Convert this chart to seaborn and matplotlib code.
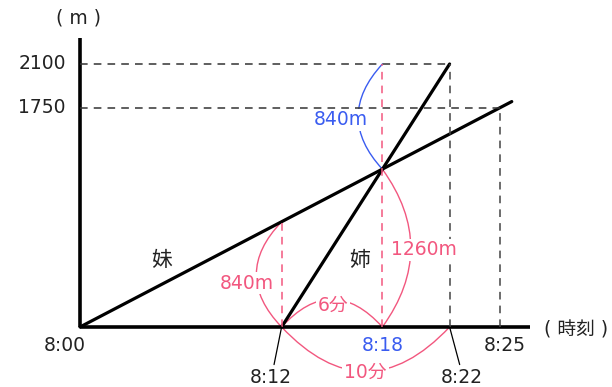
import matplotlib
matplotlib.use("Agg")
import matplotlib.pyplot as plt
from matplotlib.patches import FancyArrowPatch
import seaborn as sns
import pandas as pd

# データ（分: 8:00 からの経過時間, m: 距離）
imouto_t = [0, 25.7]
imouto_m = [0, 1800]
ane_t = [12, 22]
ane_m = [0, 2100]
y_ticks = [2100, 1750]
y_tick_labels = ["2100", "1750"]
t_meet = 18
m_meet = 1260
m_imouto_12 = 840

sns.set_style("white")
plt.rcParams['font.family'] = ['DejaVu Sans', 'Noto Sans CJK JP']

pink = "#f2577f"
blue = "#3a5cf0"
ink = "#222222"
fs = 13.5

fig = plt.figure(figsize=(6.12, 3.87), dpi=100)
ax = fig.add_axes([0, 0, 1, 1])
ax.set_xlim(-80 / 16.8, 532 / 16.8)
ax.set_ylim(-60 / 0.12524, 327 / 0.12524)
ax.axis("off")

df = pd.DataFrame({
    "t": imouto_t + ane_t,
    "m": imouto_m + ane_m,
    "who": ["妹", "妹", "姉", "姉"],
})
sns.lineplot(data=df, x="t", y="m", units="who", estimator=None,
             color="black", lw=2.3, ax=ax, legend=False)

# 軸
ax.plot([0, 26.8], [0, 0], color="black", lw=2.6, solid_capstyle="butt")
ax.plot([0, 0], [0, 2310], color="black", lw=2.6, solid_capstyle="butt")

# 補助の破線
dash = dict(lw=1.1, dashes=(5, 4))
ax.plot([0, 22], [2100, 2100], color="#333333", **dash)
ax.plot([0, 25], [1750, 1750], color="#333333", **dash)
ax.plot([22, 22], [0, 2100], color="#444444", **dash)
ax.plot([25, 25], [0, 1750], color="#444444", **dash)
ax.plot([t_meet, t_meet], [0, 2100], color=pink, **dash)
ax.plot([12, 12], [0, m_imouto_12], color=pink, **dash)

# 目盛りラベル
for v, lab in zip(y_ticks, y_tick_labels):
    ax.text(-0.85, v, lab, ha="right", va="center", fontsize=fs, color=ink)
ax.text(-0.1, 2467, "( m )", ha="center", va="center", fontsize=fs, color=ink)
ax.text(-0.9, -150, "8:00", ha="center", va="center", fontsize=fs, color=ink)
ax.text(25.3, -150, "8:25", ha="center", va="center", fontsize=fs, color=ink)
ax.text(t_meet, -150, "8:18", ha="center", va="center", fontsize=fs, color=blue)
ax.text(29.5, -24, "( 時刻 )", ha="center", va="center", fontsize=fs, color=ink)
ax.text(11.37, -405, "8:12", ha="center", va="center", fontsize=fs, color=ink)
ax.text(22.74, -405, "8:22", ha="center", va="center", fontsize=fs, color=ink)
ax.plot([12, 11.55], [0, -300], color="black", lw=0.9)
ax.plot([22, 22.6], [0, -300], color="black", lw=0.9)

ax.text(4.88, 535, "妹", ha="center", va="center", fontsize=15, color=ink)
ax.text(16.67, 535, "姉", ha="center", va="center", fontsize=15, color=ink)


def arc(p0, p1, rad, color):
    a = FancyArrowPatch(p0, p1, arrowstyle="-", connectionstyle=f"arc3,rad={rad}",
                        color=color, lw=1.0, shrinkA=0, shrinkB=0)
    ax.add_patch(a)


arc((12, m_imouto_12), (12, 0), 0.48, pink)
arc((t_meet, m_meet), (t_meet, 0), -0.36, pink)
arc((t_meet, 2100), (t_meet, m_meet), 0.46, blue)
arc((12, 0), (t_meet, 0), -0.55, pink)
arc((12, 0), (22, 0), 0.53, pink)

bg = dict(boxstyle="square,pad=0.1", fc="white", ec="none")
ax.text(9.94, 351, "840m", ha="center", va="center", fontsize=fs, color=pink, bbox=bg)
ax.text(20.48, 615, "1260m", ha="center", va="center", fontsize=fs, color=pink, bbox=bg)
ax.text(15.54, 1653, "840m", ha="center", va="center", fontsize=fs, color=blue, bbox=bg)
ax.text(15.06, 176, "6分", ha="center", va="center", fontsize=fs, color=pink, bbox=bg)
ax.text(17.0, -359, "10分", ha="center", va="center", fontsize=fs, color=pink, bbox=bg)

fig.savefig("out.png", dpi=100)
